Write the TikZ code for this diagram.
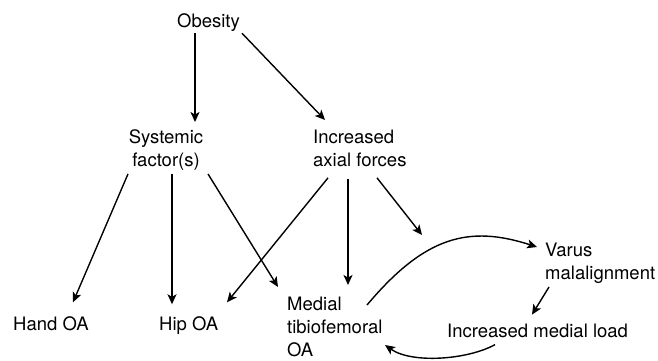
\documentclass[tikz,border=0pt]{standalone}
\usepackage{fontspec}
\setmainfont{TeX Gyre Heros}
\usetikzlibrary{arrows.meta}
\begin{document}
\begin{tikzpicture}[x=1pt,y=1pt,
  lbl/.style={inner sep=0pt, font=\fontsize{18.5}{23}\selectfont},
  arr/.style={line width=1.4pt, -{Stealth[length=10pt,width=9pt,inset=2.5pt]}}]
\useasboundingbox (0,0) rectangle (658,-360);
% factors
\node[lbl, anchor=base] (ob) at (208.5,-27) {Obesity};
\node[lbl, anchor=north, align=center] (sys) at (166,-129.5) {Systemic\\factor(s)};
\node[lbl, anchor=north west, align=left] (inc) at (313,-129.5) {Increased\\axial forces};
% outcomes
\node[lbl, anchor=base west] (hand) at (13,-330) {Hand OA};
\node[lbl, anchor=base west] (hip) at (159,-330) {Hip OA};
\node[lbl, anchor=north west, align=left] (med) at (287,-297) {Medial\\tibiofemoral\\OA};
\node[lbl, anchor=north west, align=left] (var) at (545,-243) {Varus\\malalignment};
\node[lbl, anchor=base west] (load) at (447,-337) {Increased medial load};
\coordinate (loopin) at (422,-235);
% causal links
\draw[arr] ([xshift=-13.5pt,yshift=-2pt]ob.south) -- ([xshift=29pt,yshift=7.5pt]sys.north);
\draw[arr] ([xshift=33.5pt,yshift=-2pt]ob.south) -- ([xshift=12pt,yshift=9.5pt]inc.north west);
\draw[arr] ([xshift=-38pt,yshift=-3.3pt]sys.south) -- ([xshift=60pt,yshift=13.7pt]hand.north west);
\draw[arr] ([xshift=6pt,yshift=-3.3pt]sys.south) -- ([xshift=13pt,yshift=11.7pt]hip.north west);
\draw[arr] ([xshift=42pt,yshift=-3.3pt]sys.south) -- ([xshift=-9pt,yshift=10pt]med.north west);
\draw[arr] ([xshift=15pt,yshift=-11.2pt]inc.south west) -- ([xshift=68pt,yshift=13.7pt]hip.north west);
\draw[arr] ([xshift=35pt,yshift=-12.2pt]inc.south west) -- ([xshift=61pt,yshift=12pt]med.north west);
\draw[arr] ([xshift=64pt,yshift=-11.2pt]inc.south west) -- (loopin);
% vicious cycle
\draw[arr] ([xshift=80pt,yshift=-8pt]med.north west) .. controls +(58,69) and +(-68,22) .. ([xshift=-8pt,yshift=-4pt]var.north west);
\draw[arr] ([xshift=4pt,yshift=-44pt]var.north west) -- ([xshift=85pt,yshift=8.7pt]load.north west);
\draw[arr] ([xshift=48pt,yshift=-21.3pt]load.north west) .. controls +(-27,-15) and +(27,-19) .. ([xshift=98pt,yshift=-48pt]med.north west);
\end{tikzpicture}
\end{document}
